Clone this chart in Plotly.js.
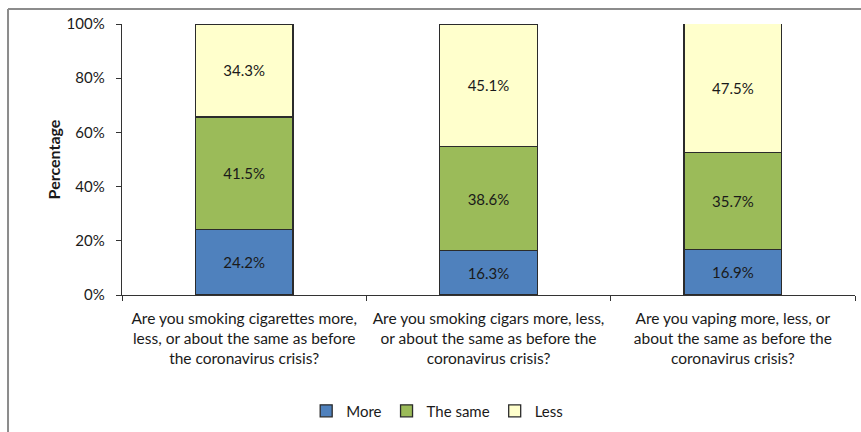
<!DOCTYPE html>
<html>
<head>
<meta charset="utf-8">
<script src="https://cdn.plot.ly/plotly-3.0.1.min.js"></script>
<style>html,body{margin:0;padding:0;background:#fff;}#chart{width:861px;height:432px;}</style>
</head>
<body>
<div id="chart"></div>
<script>
const categories = [
  "Are you smoking cigarettes more,<br>less, or about the same as before<br>the coronavirus crisis?",
  "Are you smoking cigars more, less,<br>or about the same as before the<br>coronavirus crisis?",
  "Are you vaping more, less, or<br>about the same as before the<br>coronavirus crisis?"
];
const seriesNames = ["More", "The same", "Less"];
const moreValues = [24.2, 16.3, 16.9];
const sameValues = [41.5, 38.6, 35.7];
const lessValues = [34.3, 45.1, 47.5];
const seriesColors = ["#4f81bd", "#9bbb59", "#ffffcc"];
const yTicks = [0, 20, 40, 60, 80, 100];

const FONT = "Lato, 'Open Sans', sans-serif";
const allValues = [moreValues, sameValues, lessValues];
const traces = allValues.map((vals, i) => ({
  type: "bar",
  name: seriesNames[i],
  x: categories,
  y: vals,
  text: vals.map(v => v.toFixed(1) + "%"),
  textposition: "inside",
  insidetextanchor: "middle",
  textangle: 0,
  textfont: {family: FONT, size: 15, color: "#1a1a1a"},
  hoverinfo: "skip",
  marker: {color: seriesColors[i], line: {color: "#2b2b2b", width: 1.3}}
}));

const layout = {
  width: 861, height: 432,
  margin: {l: 122, r: 6, t: 24, b: 136},
  barmode: "stack",
  bargap: 0.6,
  paper_bgcolor: "#ffffff",
  plot_bgcolor: "#ffffff",
  font: {family: FONT, size: 15, color: "#1a1a1a"},
  showlegend: true,
  legend: {
    orientation: "h", x: 0.43, xanchor: "center", y: -0.423, yanchor: "middle",
    font: {family: FONT, size: 15, color: "#1a1a1a"},
    traceorder: "normal", itemwidth: 30
  },
  xaxis: {
    type: "category",
    tickangle: 0,
    showline: true, linecolor: "#333", linewidth: 1.3,
    ticks: "outside", tickson: "boundaries", ticklen: 5, tickcolor: "#333",
    ticklabelstandoff: 9,
    tickfont: {family: FONT, size: 15.5, color: "#1a1a1a"},
    showgrid: false, zeroline: false, fixedrange: true
  },
  yaxis: {
    range: [0, 100],
    tickvals: yTicks,
    ticktext: yTicks.map(v => v + "%"),
    showline: true, linecolor: "#333", linewidth: 1.3,
    ticks: "outside", ticklen: 5, tickcolor: "#333",
    ticklabelstandoff: 8,
    tickfont: {family: FONT, size: 15, color: "#1a1a1a"},
    showgrid: false, zeroline: false, fixedrange: true,
    title: {text: "<b>Percentage</b>", font: {family: FONT, size: 16, color: "#1a1a1a"}, standoff: 2}
  },
  shapes: [
    {type: "line", xref: "paper", yref: "paper", x0: -0.1555, x1: 1.02, y0: 1.055, y1: 1.055, line: {color: "#8c8c8c", width: 2}},
    {type: "line", xref: "paper", yref: "paper", x0: -0.1555, x1: -0.1555, y0: 1.055, y1: -0.6, line: {color: "#8c8c8c", width: 2}}
  ]
};

Plotly.newPlot("chart", traces, layout, {displayModeBar: false, staticPlot: true});
</script>
</body>
</html>
